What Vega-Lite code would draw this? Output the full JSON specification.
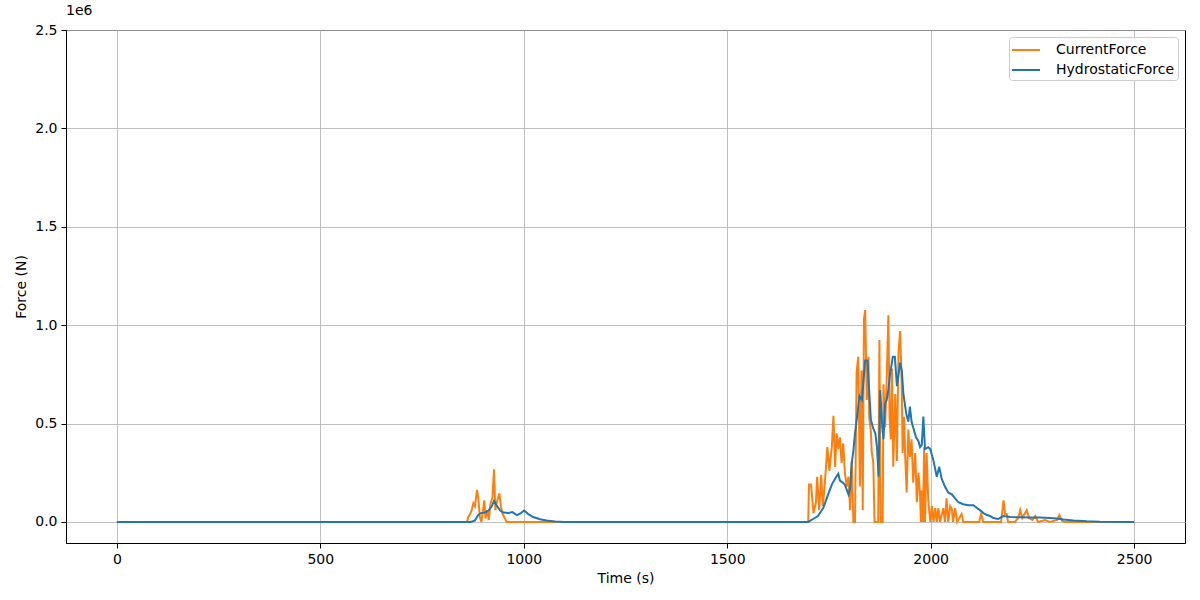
{
  "$schema": "https://vega.github.io/schema/vega-lite/v6.json",
  "width": 1119,
  "height": 513,
  "autosize": {"type": "none"},
  "padding": {"left": 66, "top": 30, "right": 15, "bottom": 57},
  "background": "white",
  "title": {"text": "1e6", "anchor": "start", "frame": "group", "fontSize": 14, "fontWeight": "normal", "font": "DejaVu Sans", "color": "black", "offset": 5},
  "config": {
    "font": "DejaVu Sans",
    "view": {"stroke": "black", "strokeWidth": 1},
    "axis": {
      "domainColor": "black", "tickColor": "black", "labelColor": "black", "titleColor": "black",
      "labelFontSize": 14, "titleFontSize": 14, "titleFontWeight": "normal",
      "gridColor": "#b0b0b0", "gridWidth": 0.8, "tickSize": 5, "labelPadding": 4, "domainWidth": 1
    }
  },
  "data": {"values": [
    {"t":0,"f":0,"s":"CurrentForce"},{"t":860,"f":0,"s":"CurrentForce"},{"t":864,"f":27000,"s":"CurrentForce"},{"t":868,"f":40000,"s":"CurrentForce"},{"t":872,"f":60000,"s":"CurrentForce"},{"t":876,"f":95000,"s":"CurrentForce"},{"t":880,"f":80000,"s":"CurrentForce"},{"t":885,"f":163000,"s":"CurrentForce"},{"t":888,"f":125000,"s":"CurrentForce"},{"t":892,"f":25000,"s":"CurrentForce"},{"t":896,"f":0,"s":"CurrentForce"},{"t":903,"f":110000,"s":"CurrentForce"},{"t":906,"f":17000,"s":"CurrentForce"},{"t":910,"f":60000,"s":"CurrentForce"},{"t":914,"f":10000,"s":"CurrentForce"},{"t":918,"f":90000,"s":"CurrentForce"},{"t":923,"f":125000,"s":"CurrentForce"},{"t":927,"f":268000,"s":"CurrentForce"},{"t":930,"f":60000,"s":"CurrentForce"},{"t":935,"f":110000,"s":"CurrentForce"},{"t":940,"f":145000,"s":"CurrentForce"},{"t":944,"f":75000,"s":"CurrentForce"},{"t":948,"f":40000,"s":"CurrentForce"},{"t":954,"f":17000,"s":"CurrentForce"},{"t":958,"f":0,"s":"CurrentForce"},
    {"t":1699,"f":0,"s":"CurrentForce"},{"t":1701,"f":190000,"s":"CurrentForce"},{"t":1706,"f":190000,"s":"CurrentForce"},{"t":1712,"f":45000,"s":"CurrentForce"},{"t":1718,"f":100000,"s":"CurrentForce"},{"t":1721,"f":230000,"s":"CurrentForce"},{"t":1726,"f":60000,"s":"CurrentForce"},{"t":1731,"f":240000,"s":"CurrentForce"},{"t":1735,"f":80000,"s":"CurrentForce"},{"t":1740,"f":200000,"s":"CurrentForce"},{"t":1746,"f":380000,"s":"CurrentForce"},{"t":1751,"f":260000,"s":"CurrentForce"},{"t":1757,"f":380000,"s":"CurrentForce"},{"t":1761,"f":540000,"s":"CurrentForce"},{"t":1765,"f":280000,"s":"CurrentForce"},{"t":1769,"f":450000,"s":"CurrentForce"},{"t":1773,"f":370000,"s":"CurrentForce"},{"t":1777,"f":430000,"s":"CurrentForce"},{"t":1781,"f":300000,"s":"CurrentForce"},{"t":1785,"f":400000,"s":"CurrentForce"},{"t":1789,"f":250000,"s":"CurrentForce"},{"t":1794,"f":180000,"s":"CurrentForce"},{"t":1798,"f":230000,"s":"CurrentForce"},{"t":1802,"f":60000,"s":"CurrentForce"},{"t":1806,"f":310000,"s":"CurrentForce"},{"t":1810,"f":0,"s":"CurrentForce"},{"t":1814,"f":0,"s":"CurrentForce"},{"t":1818,"f":760000,"s":"CurrentForce"},{"t":1822,"f":840000,"s":"CurrentForce"},{"t":1826,"f":180000,"s":"CurrentForce"},{"t":1830,"f":770000,"s":"CurrentForce"},{"t":1833,"f":60000,"s":"CurrentForce"},{"t":1836,"f":1030000,"s":"CurrentForce"},{"t":1839,"f":1077000,"s":"CurrentForce"},{"t":1843,"f":620000,"s":"CurrentForce"},{"t":1847,"f":840000,"s":"CurrentForce"},{"t":1849,"f":530000,"s":"CurrentForce"},{"t":1853,"f":460000,"s":"CurrentForce"},{"t":1855,"f":360000,"s":"CurrentForce"},{"t":1859,"f":300000,"s":"CurrentForce"},{"t":1862,"f":0,"s":"CurrentForce"},{"t":1871,"f":0,"s":"CurrentForce"},{"t":1874,"f":925000,"s":"CurrentForce"},{"t":1877,"f":0,"s":"CurrentForce"},{"t":1882,"f":0,"s":"CurrentForce"},{"t":1884,"f":700000,"s":"CurrentForce"},{"t":1888,"f":480000,"s":"CurrentForce"},{"t":1892,"f":730000,"s":"CurrentForce"},{"t":1896,"f":1050000,"s":"CurrentForce"},{"t":1899,"f":530000,"s":"CurrentForce"},{"t":1902,"f":420000,"s":"CurrentForce"},{"t":1905,"f":780000,"s":"CurrentForce"},{"t":1908,"f":280000,"s":"CurrentForce"},{"t":1913,"f":650000,"s":"CurrentForce"},{"t":1917,"f":310000,"s":"CurrentForce"},{"t":1921,"f":870000,"s":"CurrentForce"},{"t":1925,"f":970000,"s":"CurrentForce"},{"t":1929,"f":680000,"s":"CurrentForce"},{"t":1931,"f":350000,"s":"CurrentForce"},{"t":1935,"f":535000,"s":"CurrentForce"},{"t":1937,"f":350000,"s":"CurrentForce"},{"t":1941,"f":150000,"s":"CurrentForce"},{"t":1945,"f":470000,"s":"CurrentForce"},{"t":1949,"f":330000,"s":"CurrentForce"},{"t":1953,"f":420000,"s":"CurrentForce"},{"t":1957,"f":200000,"s":"CurrentForce"},{"t":1962,"f":350000,"s":"CurrentForce"},{"t":1966,"f":100000,"s":"CurrentForce"},{"t":1970,"f":250000,"s":"CurrentForce"},{"t":1974,"f":130000,"s":"CurrentForce"},{"t":1976,"f":0,"s":"CurrentForce"},{"t":1978,"f":160000,"s":"CurrentForce"},{"t":1981,"f":0,"s":"CurrentForce"},{"t":1984,"f":380000,"s":"CurrentForce"},{"t":1986,"f":0,"s":"CurrentForce"},{"t":1990,"f":350000,"s":"CurrentForce"},{"t":1994,"f":110000,"s":"CurrentForce"},{"t":1999,"f":0,"s":"CurrentForce"},{"t":2003,"f":80000,"s":"CurrentForce"},{"t":2007,"f":0,"s":"CurrentForce"},{"t":2011,"f":70000,"s":"CurrentForce"},{"t":2015,"f":0,"s":"CurrentForce"},{"t":2019,"f":70000,"s":"CurrentForce"},{"t":2023,"f":0,"s":"CurrentForce"},{"t":2031,"f":70000,"s":"CurrentForce"},{"t":2035,"f":0,"s":"CurrentForce"},{"t":2039,"f":120000,"s":"CurrentForce"},{"t":2043,"f":0,"s":"CurrentForce"},{"t":2048,"f":80000,"s":"CurrentForce"},{"t":2052,"f":65000,"s":"CurrentForce"},{"t":2055,"f":0,"s":"CurrentForce"},{"t":2060,"f":70000,"s":"CurrentForce"},{"t":2065,"f":0,"s":"CurrentForce"},{"t":2076,"f":40000,"s":"CurrentForce"},{"t":2080,"f":0,"s":"CurrentForce"},{"t":2119,"f":0,"s":"CurrentForce"},{"t":2124,"f":40000,"s":"CurrentForce"},{"t":2129,"f":0,"s":"CurrentForce"},{"t":2173,"f":0,"s":"CurrentForce"},{"t":2179,"f":110000,"s":"CurrentForce"},{"t":2183,"f":40000,"s":"CurrentForce"},{"t":2187,"f":40000,"s":"CurrentForce"},{"t":2190,"f":0,"s":"CurrentForce"},{"t":2207,"f":0,"s":"CurrentForce"},{"t":2215,"f":20000,"s":"CurrentForce"},{"t":2220,"f":60000,"s":"CurrentForce"},{"t":2225,"f":20000,"s":"CurrentForce"},{"t":2236,"f":60000,"s":"CurrentForce"},{"t":2242,"f":20000,"s":"CurrentForce"},{"t":2250,"f":10000,"s":"CurrentForce"},{"t":2257,"f":30000,"s":"CurrentForce"},{"t":2264,"f":0,"s":"CurrentForce"},{"t":2281,"f":10000,"s":"CurrentForce"},{"t":2293,"f":0,"s":"CurrentForce"},{"t":2311,"f":10000,"s":"CurrentForce"},{"t":2316,"f":35000,"s":"CurrentForce"},{"t":2323,"f":5000,"s":"CurrentForce"},{"t":2330,"f":0,"s":"CurrentForce"},{"t":2500,"f":0,"s":"CurrentForce"},
    {"t":0,"f":0,"s":"HydrostaticForce"},{"t":870,"f":0,"s":"HydrostaticForce"},{"t":880,"f":8000,"s":"HydrostaticForce"},{"t":888,"f":35000,"s":"HydrostaticForce"},{"t":894,"f":45000,"s":"HydrostaticForce"},{"t":905,"f":48000,"s":"HydrostaticForce"},{"t":913,"f":58000,"s":"HydrostaticForce"},{"t":921,"f":78000,"s":"HydrostaticForce"},{"t":927,"f":107000,"s":"HydrostaticForce"},{"t":933,"f":85000,"s":"HydrostaticForce"},{"t":942,"f":58000,"s":"HydrostaticForce"},{"t":950,"f":48000,"s":"HydrostaticForce"},{"t":962,"f":45000,"s":"HydrostaticForce"},{"t":972,"f":50000,"s":"HydrostaticForce"},{"t":983,"f":35000,"s":"HydrostaticForce"},{"t":993,"f":45000,"s":"HydrostaticForce"},{"t":1001,"f":58000,"s":"HydrostaticForce"},{"t":1011,"f":40000,"s":"HydrostaticForce"},{"t":1023,"f":25000,"s":"HydrostaticForce"},{"t":1040,"f":14000,"s":"HydrostaticForce"},{"t":1056,"f":7000,"s":"HydrostaticForce"},{"t":1077,"f":2000,"s":"HydrostaticForce"},{"t":1100,"f":0,"s":"HydrostaticForce"},
    {"t":1699,"f":0,"s":"HydrostaticForce"},{"t":1711,"f":15000,"s":"HydrostaticForce"},{"t":1723,"f":30000,"s":"HydrostaticForce"},{"t":1736,"f":70000,"s":"HydrostaticForce"},{"t":1748,"f":140000,"s":"HydrostaticForce"},{"t":1757,"f":190000,"s":"HydrostaticForce"},{"t":1765,"f":220000,"s":"HydrostaticForce"},{"t":1773,"f":245000,"s":"HydrostaticForce"},{"t":1777,"f":210000,"s":"HydrostaticForce"},{"t":1784,"f":200000,"s":"HydrostaticForce"},{"t":1789,"f":190000,"s":"HydrostaticForce"},{"t":1798,"f":140000,"s":"HydrostaticForce"},{"t":1802,"f":170000,"s":"HydrostaticForce"},{"t":1806,"f":300000,"s":"HydrostaticForce"},{"t":1810,"f":360000,"s":"HydrostaticForce"},{"t":1814,"f":450000,"s":"HydrostaticForce"},{"t":1820,"f":550000,"s":"HydrostaticForce"},{"t":1825,"f":640000,"s":"HydrostaticForce"},{"t":1831,"f":620000,"s":"HydrostaticForce"},{"t":1835,"f":720000,"s":"HydrostaticForce"},{"t":1839,"f":820000,"s":"HydrostaticForce"},{"t":1845,"f":820000,"s":"HydrostaticForce"},{"t":1847,"f":730000,"s":"HydrostaticForce"},{"t":1853,"f":520000,"s":"HydrostaticForce"},{"t":1858,"f":480000,"s":"HydrostaticForce"},{"t":1864,"f":450000,"s":"HydrostaticForce"},{"t":1868,"f":380000,"s":"HydrostaticForce"},{"t":1872,"f":230000,"s":"HydrostaticForce"},{"t":1876,"f":670000,"s":"HydrostaticForce"},{"t":1881,"f":480000,"s":"HydrostaticForce"},{"t":1884,"f":420000,"s":"HydrostaticForce"},{"t":1888,"f":600000,"s":"HydrostaticForce"},{"t":1892,"f":620000,"s":"HydrostaticForce"},{"t":1896,"f":670000,"s":"HydrostaticForce"},{"t":1900,"f":750000,"s":"HydrostaticForce"},{"t":1907,"f":840000,"s":"HydrostaticForce"},{"t":1912,"f":840000,"s":"HydrostaticForce"},{"t":1917,"f":690000,"s":"HydrostaticForce"},{"t":1925,"f":810000,"s":"HydrostaticForce"},{"t":1929,"f":770000,"s":"HydrostaticForce"},{"t":1933,"f":650000,"s":"HydrostaticForce"},{"t":1940,"f":550000,"s":"HydrostaticForce"},{"t":1945,"f":510000,"s":"HydrostaticForce"},{"t":1949,"f":586000,"s":"HydrostaticForce"},{"t":1953,"f":510000,"s":"HydrostaticForce"},{"t":1957,"f":480000,"s":"HydrostaticForce"},{"t":1964,"f":430000,"s":"HydrostaticForce"},{"t":1970,"f":410000,"s":"HydrostaticForce"},{"t":1974,"f":380000,"s":"HydrostaticForce"},{"t":1978,"f":390000,"s":"HydrostaticForce"},{"t":1982,"f":535000,"s":"HydrostaticForce"},{"t":1986,"f":370000,"s":"HydrostaticForce"},{"t":1994,"f":380000,"s":"HydrostaticForce"},{"t":1999,"f":370000,"s":"HydrostaticForce"},{"t":2003,"f":340000,"s":"HydrostaticForce"},{"t":2007,"f":310000,"s":"HydrostaticForce"},{"t":2015,"f":230000,"s":"HydrostaticForce"},{"t":2021,"f":280000,"s":"HydrostaticForce"},{"t":2027,"f":220000,"s":"HydrostaticForce"},{"t":2035,"f":180000,"s":"HydrostaticForce"},{"t":2043,"f":150000,"s":"HydrostaticForce"},{"t":2052,"f":140000,"s":"HydrostaticForce"},{"t":2060,"f":120000,"s":"HydrostaticForce"},{"t":2068,"f":100000,"s":"HydrostaticForce"},{"t":2080,"f":90000,"s":"HydrostaticForce"},{"t":2093,"f":85000,"s":"HydrostaticForce"},{"t":2105,"f":85000,"s":"HydrostaticForce"},{"t":2113,"f":72000,"s":"HydrostaticForce"},{"t":2121,"f":60000,"s":"HydrostaticForce"},{"t":2130,"f":45000,"s":"HydrostaticForce"},{"t":2138,"f":35000,"s":"HydrostaticForce"},{"t":2146,"f":30000,"s":"HydrostaticForce"},{"t":2154,"f":20000,"s":"HydrostaticForce"},{"t":2166,"f":15000,"s":"HydrostaticForce"},{"t":2178,"f":30000,"s":"HydrostaticForce"},{"t":2195,"f":25000,"s":"HydrostaticForce"},{"t":2220,"f":24000,"s":"HydrostaticForce"},{"t":2244,"f":22000,"s":"HydrostaticForce"},{"t":2269,"f":23000,"s":"HydrostaticForce"},{"t":2293,"f":20000,"s":"HydrostaticForce"},{"t":2310,"f":17000,"s":"HydrostaticForce"},{"t":2326,"f":12000,"s":"HydrostaticForce"},{"t":2351,"f":7000,"s":"HydrostaticForce"},{"t":2384,"f":3000,"s":"HydrostaticForce"},{"t":2416,"f":1000,"s":"HydrostaticForce"},{"t":2500,"f":0,"s":"HydrostaticForce"}
  ]},
  "mark": {"type": "line", "strokeWidth": 2, "clip": true},
  "encoding": {
    "x": {"field": "t", "type": "quantitative", "title": "Time (s)",
      "scale": {"domain": [-125, 2625], "nice": false, "zero": false},
      "axis": {"values": [0, 500, 1000, 1500, 2000, 2500], "format": "d", "titlePadding": 5}},
    "y": {"field": "f", "type": "quantitative", "title": "Force (N)",
      "scale": {"domain": [-107000, 2500000], "nice": false, "zero": false},
      "axis": {"values": [0, 500000, 1000000, 1500000, 2000000, 2500000], "labelExpr": "format(datum.value / 1000000, '.1f')", "titlePadding": 6}},
    "color": {"field": "s", "type": "nominal", "title": null,
      "scale": {"domain": ["CurrentForce", "HydrostaticForce"], "range": ["#ff7f0e", "#1f77b4"]},
      "legend": {"orient": "top-right", "offset": 7, "strokeColor": "#cccccc", "fillColor": "white", "padding": 3, "cornerRadius": 3,
        "symbolType": "M-1.5556,0L1.5556,0", "symbolSize": 324, "symbolStrokeWidth": 2, "symbolOffset": 4, "labelFontSize": 14, "labelColor": "black", "labelOffset": 20, "rowPadding": 3}},
    "order": {"field": "t", "type": "quantitative"}
  }
}
